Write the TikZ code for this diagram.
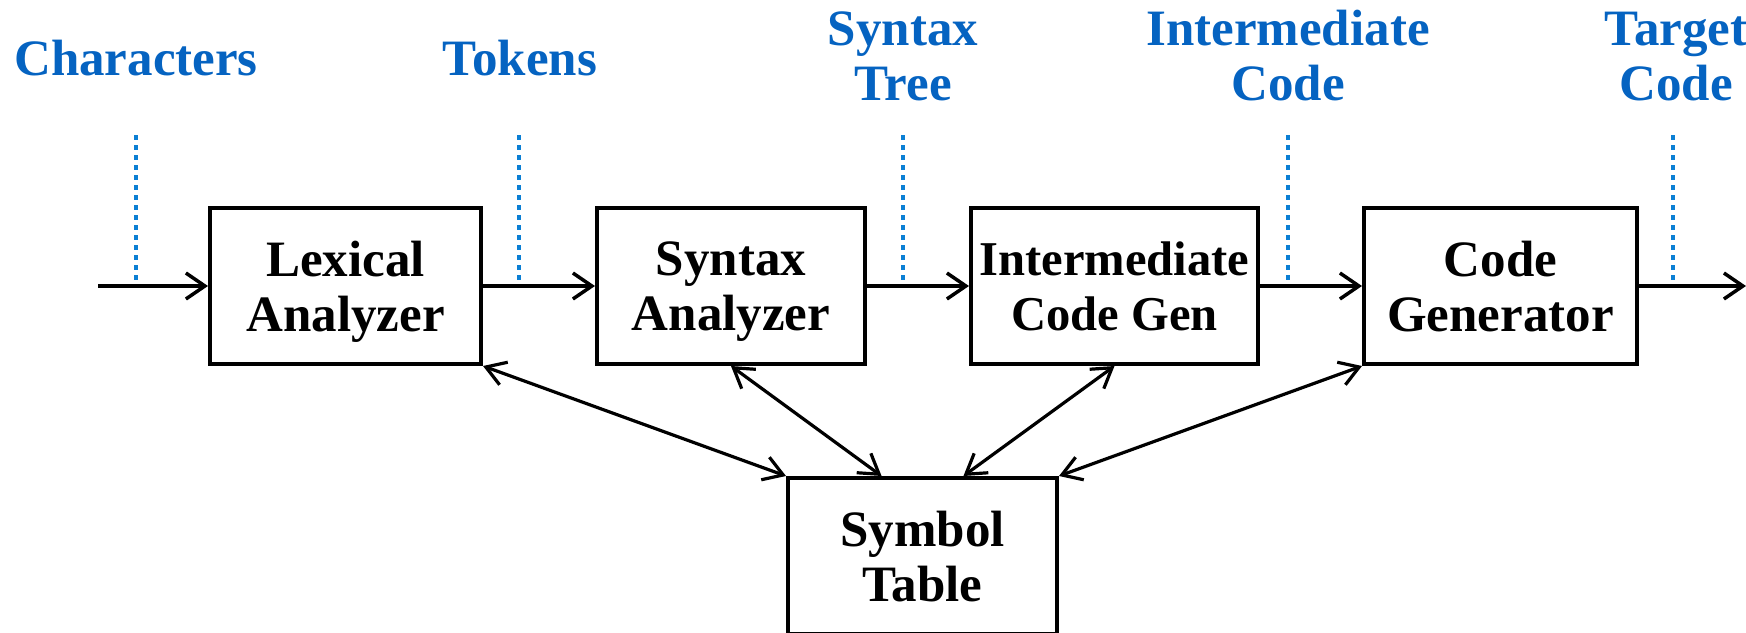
\documentclass[tikz,border=0pt]{standalone}
\usepackage{fontspec}
\setmainfont{Liberation Serif}
\usetikzlibrary{arrows.meta,calc}
\definecolor{labelblue}{HTML}{0563C1}
\definecolor{tickblue}{HTML}{0B7FD4}

\begin{document}
\begin{tikzpicture}[x=0.5pt,y=-0.5pt,
  font=\bfseries\fontsize{25.5}{27.5}\selectfont,
  stage/.style={draw, line width=2pt, minimum height=78pt, inner sep=1pt, text depth=0pt, align=center},
  flow/.style={line width=1.75pt, -{Straight Barb[length=9.5pt,width=13pt,line width=1.75pt]}},
  link/.style={line width=1.6pt, {Straight Barb[length=9.5pt,width=12pt,line width=1.6pt]}-{Straight Barb[length=9.5pt,width=12pt,line width=1.6pt]}},
  datalabel/.style={text=labelblue, align=center, anchor=base, inner sep=0pt},
  tick/.style={tickblue, line width=2.3pt, dash pattern=on 2.5pt off 2.5pt},
]
\useasboundingbox (0,0) rectangle (1746,632);

% compiler stages
\node[stage, minimum width=135.5pt] (lex) at (345.5,286) {Lexical\\Analyzer};
\node[stage, minimum width=134pt]   (syn) at (731,286)   {Syntax\\Analyzer};
\node[stage, minimum width=143.5pt, font=\bfseries\fontsize{24.3}{27.5}\selectfont] (icg) at (1114.5,286) {Intermediate\\Code Gen};
\node[stage, minimum width=136.5pt] (cg)  at (1500.5,286) {Code\\Generator};
\node[stage, minimum width=134.5pt] (sym) at (922.5,556) {Symbol\\Table};

% data passed between stages (base = last line's baseline)
\node[datalabel] (lchars) at (136,75) {Characters};
\node[datalabel] (ltok)   at (520,75) {Tokens};
\node[datalabel] (ltree)  at (903,100) {Syntax\\Tree};
\node[datalabel] (lir)    at (1288,100) {Intermediate\\Code};
\node[datalabel] (ltgt)   at (1676,100) {Target\\Code};

% dotted markers on the main flow
\coordinate (t1) at (136,135);
\coordinate (t2) at (519,135);
\coordinate (t3) at (903,135);
\coordinate (t4) at (1288,135);
\coordinate (t5) at (1673,135);
\foreach \t in {t1,t2,t3,t4,t5}
  \draw[tick] (\t) -- (\t |- lex.east);

% main pipeline
\coordinate (src) at (98,286);
\coordinate (dst) at (1746,286);
\draw[flow] (src) -- (lex.west);
\draw[flow] (lex.east) -- (syn.west);
\draw[flow] (syn.east) -- (icg.west);
\draw[flow] (icg.east) -- (cg.west);
\draw[flow] (cg.east) -- (dst);

% symbol table access
\coordinate (s2) at ($(sym.north west)!0.35!(sym.north east)$);
\coordinate (s3) at ($(sym.north west)!0.65!(sym.north east)$);
\draw[link] (lex.south east) -- (sym.north west);
\draw[link] (syn.south) -- (s2);
\draw[link] (icg.south) -- (s3);
\draw[link] (cg.south west) -- (sym.north east);
\end{tikzpicture}
\end{document}
